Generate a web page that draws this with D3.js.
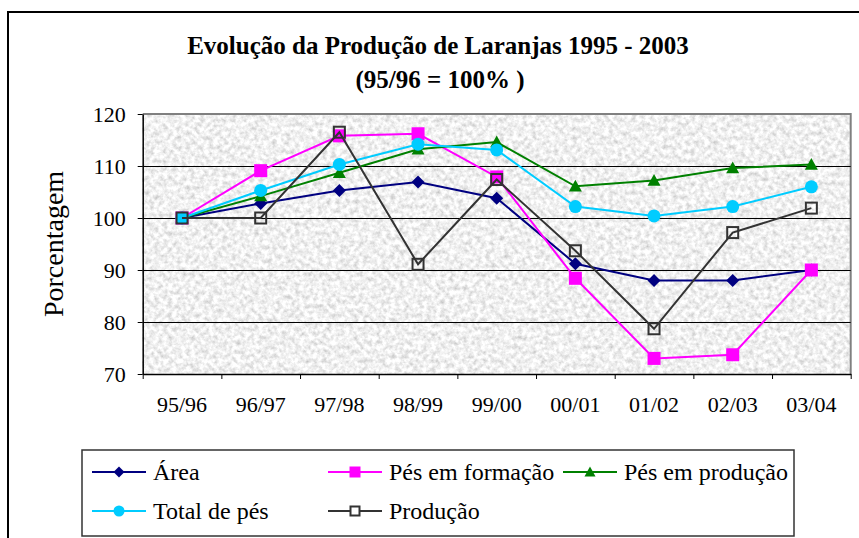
<!DOCTYPE html>
<html>
  <head>
    <meta charset="utf-8">
    <script src="https://d3js.org/d3.v7.min.js"></script>
    <style>
      body { margin: 0; background: #fff; }
    </style>
  </head>
  <body>
    <script>

    const categories = ["95/96", "96/97", "97/98", "98/99", "99/00", "00/01", "01/02", "02/03", "03/04"];
    const yTicks = [70, 80, 90, 100, 110, 120];

    const area        = [100, 102.8, 105.3, 106.9, 103.8, 91.2, 88.0, 88.0, 90.0];
    const pesFormacao = [100, 109.1, 115.8, 116.2, 107.9, 88.4, 73.0, 73.7, 90.0];
    const pesProducao = [100, 104.2, 108.7, 113.2, 114.6, 106.1, 107.2, 109.6, 110.3];
    const totalPes    = [100, 105.3, 110.3, 114.2, 113.1, 102.2, 100.4, 102.2, 106.0];
    const producao    = [100, 100.0, 116.5, 91.1, 107.4, 93.7, 78.7, 97.2, 101.9];

    const series = [
      { name: "Área", values: area, color: "#000080", marker: "diamond" },
      { name: "Pés em formação", values: pesFormacao, color: "#ff00ff", marker: "square" },
      { name: "Pés em produção", values: pesProducao, color: "#008000", marker: "triangle" },
      { name: "Total de pés", values: totalPes, color: "#00ccff", marker: "circle" },
      { name: "Produção", values: producao, color: "#333333", marker: "hollow" }
    ];

    const FONT = "'Liberation Serif', 'Times New Roman', Tinos, 'DejaVu Serif', serif";

    const width = 859, height = 538;
    const plot = { left: 142.7, right: 850.7, top: 114, bottom: 374 };

    const svg = d3.select("body").append("svg")
        .attr("width", width)
        .attr("height", height);

    // granite-like texture for the plot area
    const defs = svg.append("defs");
    const filter = defs.append("filter")
        .attr("id", "granite")
        .attr("filterUnits", "userSpaceOnUse")
        .attr("x", plot.left).attr("y", plot.top)
        .attr("width", plot.right - plot.left).attr("height", plot.bottom - plot.top);
    filter.append("feTurbulence")
        .attr("type", "fractalNoise")
        .attr("baseFrequency", 0.22)
        .attr("numOctaves", 3)
        .attr("seed", 7);
    filter.append("feColorMatrix")
        .attr("type", "matrix")
        .attr("values", "0.75 0 0 0 0.5  0.75 0 0 0 0.5  0.75 0 0 0 0.5  0 0 0 0 1");

    const x = d3.scaleBand().domain(categories).range([plot.left, plot.right]).padding(0);
    const xEdge = d3.scaleLinear().domain([0, categories.length]).range([plot.left, plot.right]);
    const y = d3.scaleLinear().domain([70, 120]).range([plot.bottom, plot.top]);
    const cx = d => x(d) + x.bandwidth() / 2;

    // outer chart border
    svg.append("rect")
        .attr("x", 8).attr("y", 12)
        .attr("width", 880).attr("height", 560)
        .attr("fill", "none")
        .attr("stroke", "#000")
        .attr("stroke-width", 2);

    svg.append("rect")
        .attr("x", plot.left).attr("y", plot.top)
        .attr("width", plot.right - plot.left).attr("height", plot.bottom - plot.top)
        .attr("fill", "#e0e0e0")
        .attr("filter", "url(#granite)");

    // plot border (top / right grey)
    svg.append("path")
        .attr("d", `M${plot.left},${plot.top}H${plot.right}V${plot.bottom}`)
        .attr("fill", "none")
        .attr("stroke", "#808080")
        .attr("stroke-width", 2);

    // gridlines
    svg.append("g")
        .attr("transform", `translate(${plot.left},0)`)
        .call(d3.axisLeft(y).tickValues([80, 90, 100, 110]).tickSize(-(plot.right - plot.left)).tickFormat(""))
        .call(g => g.select(".domain").remove())
        .call(g => g.selectAll("line").attr("stroke", "#000").attr("stroke-width", 1));

    // y axis
    svg.append("g")
        .attr("transform", `translate(${plot.left},0)`)
        .call(d3.axisLeft(y).tickValues(yTicks).tickSize(5).tickSizeOuter(0).tickPadding(12))
        .attr("font-family", FONT)
        .call(g => g.select(".domain").attr("stroke", "#000").attr("stroke-width", 1.5))
        .call(g => g.selectAll("line").attr("stroke", "#000"))
        .call(g => g.selectAll("text").attr("fill", "#000").style("font-family", FONT).style("font-size", "22px"));

    // x axis: ticks on category boundaries, labels at centres
    svg.append("g")
        .attr("transform", `translate(0,${plot.bottom})`)
        .call(d3.axisBottom(xEdge).tickValues(d3.range(categories.length + 1)).tickSize(5).tickSizeOuter(0).tickFormat(""))
        .call(g => g.select(".domain").attr("stroke", "#000").attr("stroke-width", 1.5))
        .call(g => g.selectAll("line").attr("stroke", "#000"));

    svg.append("g")
        .attr("transform", `translate(0,${plot.bottom})`)
        .call(d3.axisBottom(x).tickSize(0).tickPadding(22))
        .attr("font-family", FONT)
        .call(g => g.select(".domain").remove())
        .call(g => g.selectAll("text").attr("fill", "#000").style("font-family", FONT).style("font-size", "22px"));

    // y axis title
    svg.append("text")
        .attr("transform", `translate(63,${(plot.top + plot.bottom) / 2}) rotate(-90)`)
        .attr("text-anchor", "middle")
        .style("font-family", FONT)
        .style("font-size", "28px")
        .text("Porcentagem");

    // title
    svg.append("text")
        .attr("x", 438).attr("y", 54)
        .attr("text-anchor", "middle")
        .style("font-family", FONT)
        .style("font-size", "25px")
        .style("font-weight", "bold")
        .text("Evolução da Produção de Laranjas 1995 - 2003");
    svg.append("text")
        .attr("x", 440).attr("y", 88)
        .attr("text-anchor", "middle")
        .style("font-family", FONT)
        .style("font-size", "25px")
        .style("font-weight", "bold")
        .text("(95/96 = 100% )");

    function drawMarker(g, type, color, size) {
      const s = size / 2;
      if (type === "diamond") {
        g.append("path").attr("d", `M0,${-s}L${s},0L0,${s}L${-s},0Z`).attr("fill", color);
      } else if (type === "square") {
        g.append("rect").attr("x", -s).attr("y", -s).attr("width", size).attr("height", size).attr("fill", color);
      } else if (type === "triangle") {
        g.append("path").attr("d", `M0,${-s}L${s},${s * 0.8}L${-s},${s * 0.8}Z`).attr("fill", color);
      } else if (type === "circle") {
        g.append("circle").attr("r", s).attr("fill", color);
      } else {
        g.append("rect").attr("x", -s + 1).attr("y", -s + 1).attr("width", size - 2).attr("height", size - 2)
          .attr("fill", "none").attr("stroke", color).attr("stroke-width", 2);
      }
    }

    const line = d3.line().x((d, i) => cx(categories[i])).y(d => y(d));

    series.forEach(s => {
      svg.append("path")
          .datum(s.values)
          .attr("d", line)
          .attr("fill", "none")
          .attr("stroke", s.color)
          .attr("stroke-width", 2);
      svg.append("g").selectAll("g")
        .data(s.values)
        .join("g")
          .attr("transform", (d, i) => `translate(${cx(categories[i])},${y(d)})`)
          .each(function() { drawMarker(d3.select(this), s.marker, s.color, 13); });
    });

    // legend
    const legend = svg.append("g");
    legend.append("rect")
        .attr("x", 82).attr("y", 450)
        .attr("width", 712).attr("height", 86)
        .attr("fill", "#fff")
        .attr("stroke", "#333")
        .attr("stroke-width", 1.5);

    const legendPos = [
      { x: 92, y: 472 }, { x: 328, y: 472 }, { x: 563, y: 472 },
      { x: 92, y: 511 }, { x: 328, y: 511 }
    ];
    series.forEach((s, i) => {
      const p = legendPos[i];
      const g = legend.append("g").attr("transform", `translate(${p.x},${p.y})`);
      g.append("line").attr("x1", 0).attr("x2", 54).attr("stroke", s.color).attr("stroke-width", 2);
      const m = g.append("g").attr("transform", "translate(27,0)");
      drawMarker(m, s.marker, s.color, 11);
      if (s.marker === "hollow") m.select("rect").attr("fill", "#fff");
      g.append("text")
          .attr("x", 61).attr("dy", "0.35em")
          .style("font-family", FONT)
          .style("font-size", "24px")
          .text(s.name);
    });

    </script>
  </body>
</html>
